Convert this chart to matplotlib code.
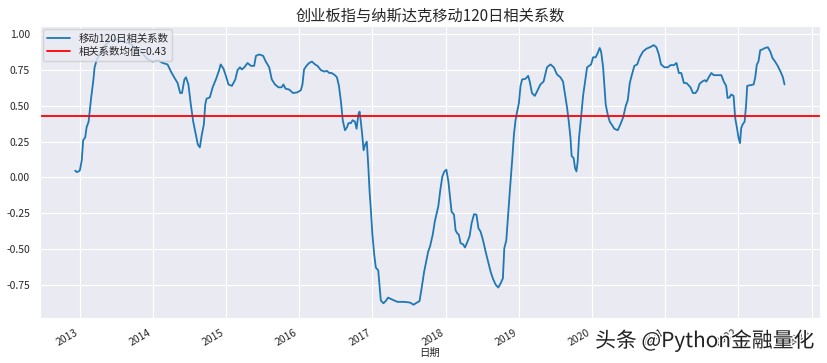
import numpy as np
import pandas as pd
import matplotlib
matplotlib.use("Agg")
import matplotlib.pyplot as plt
import matplotlib.dates as mdates
import matplotlib.patheffects as pe
import seaborn as sns

sns.set_style("darkgrid")
plt.rcParams['font.family'] = ['Noto Sans CJK SC', 'DejaVu Sans']
plt.rcParams['axes.unicode_minus'] = False

# 移动120日相关系数
dates = [
    "2012-12-10", "2012-12-19", "2013-01-02", "2013-01-12", "2013-01-19", "2013-01-29",
    "2013-02-05", "2013-02-15", "2013-02-21", "2013-02-28", "2013-03-10", "2013-03-17",
    "2013-03-27", "2013-04-11", "2013-04-19", "2013-05-13", "2013-06-07", "2013-07-10",
    "2013-08-12", "2013-09-15", "2013-11-03", "2013-12-07", "2014-01-01", "2014-01-26",
    "2014-02-20", "2014-03-16", "2014-04-02", "2014-04-18", "2014-05-05", "2014-05-18",
    "2014-05-27", "2014-06-08", "2014-06-16", "2014-06-28", "2014-07-10", "2014-07-22",
    "2014-08-04", "2014-08-14", "2014-08-24", "2014-09-03", "2014-09-13", "2014-09-20",
    "2014-09-26", "2014-10-13", "2014-10-27", "2014-11-12", "2014-11-26", "2014-12-06",
    "2014-12-20", "2015-01-01", "2015-01-14", "2015-01-31", "2015-02-17", "2015-02-28",
    "2015-03-12", "2015-03-22", "2015-04-03", "2015-04-19", "2015-05-06", "2015-05-22",
    "2015-05-31", "2015-06-16", "2015-07-06", "2015-07-19", "2015-08-05", "2015-08-18",
    "2015-09-03", "2015-09-20", "2015-10-06", "2015-10-15", "2015-10-26", "2015-11-12",
    "2015-12-02", "2015-12-24", "2016-01-10", "2016-01-18", "2016-01-26", "2016-02-07",
    "2016-02-20", "2016-03-05", "2016-03-21", "2016-04-02", "2016-04-19", "2016-05-06",
    "2016-05-19", "2016-05-31", "2016-06-12", "2016-06-28", "2016-07-08", "2016-07-18",
    "2016-07-28", "2016-08-06", "2016-08-17", "2016-08-27", "2016-09-04", "2016-09-16",
    "2016-09-24", "2016-10-06", "2016-10-14", "2016-10-23", "2016-10-29", "2016-11-05",
    "2016-11-11", "2016-11-18", "2016-11-26", "2016-12-04", "2016-12-11", "2016-12-18",
    "2016-12-25", "2017-01-01", "2017-01-10", "2017-01-18", "2017-01-30", "2017-02-05",
    "2017-02-12", "2017-02-25", "2017-03-08", "2017-03-20", "2017-04-11", "2017-05-06",
    "2017-06-08", "2017-07-08", "2017-07-25", "2017-08-11", "2017-08-24", "2017-09-03",
    "2017-09-16", "2017-09-26", "2017-10-06", "2017-10-16", "2017-10-29", "2017-11-08",
    "2017-11-13", "2017-11-26", "2017-12-06", "2017-12-16", "2017-12-26", "2018-01-05",
    "2018-01-15", "2018-01-21", "2018-01-31", "2018-02-12", "2018-02-20", "2018-02-28",
    "2018-03-08", "2018-03-17", "2018-03-29", "2018-04-08", "2018-04-20", "2018-05-01",
    "2018-05-11", "2018-05-23", "2018-06-04", "2018-06-14", "2018-06-25", "2018-07-07",
    "2018-07-20", "2018-08-03", "2018-08-14", "2018-08-26", "2018-09-08", "2018-09-21",
    "2018-10-03", "2018-10-14", "2018-10-21", "2018-10-31", "2018-11-10", "2018-11-20",
    "2018-11-30", "2018-12-08", "2018-12-16", "2018-12-24", "2019-01-02", "2019-01-10",
    "2019-01-18", "2019-02-04", "2019-02-17", "2019-02-25", "2019-03-08", "2019-03-22",
    "2019-04-02", "2019-04-19", "2019-05-05", "2019-05-22", "2019-06-08", "2019-06-25",
    "2019-07-11", "2019-07-28", "2019-08-10", "2019-08-20", "2019-08-30", "2019-09-07",
    "2019-09-16", "2019-09-22", "2019-10-02", "2019-10-09", "2019-10-16", "2019-10-22",
    "2019-10-29", "2019-11-08", "2019-11-18", "2019-11-28", "2019-12-08", "2019-12-18",
    "2019-12-28", "2020-01-07", "2020-01-20", "2020-01-30", "2020-02-09", "2020-02-16",
    "2020-02-26", "2020-03-04", "2020-03-10", "2020-03-20", "2020-03-30", "2020-04-11",
    "2020-04-22", "2020-05-09", "2020-05-22", "2020-06-05", "2020-06-18", "2020-06-28",
    "2020-07-08", "2020-07-19", "2020-07-31", "2020-08-14", "2020-08-27", "2020-09-12",
    "2020-09-29", "2020-10-16", "2020-11-05", "2020-11-18", "2020-11-30", "2020-12-11",
    "2020-12-28", "2021-01-14", "2021-01-27", "2021-02-13", "2021-02-26", "2021-03-10",
    "2021-03-22", "2021-04-04", "2021-04-17", "2021-05-07", "2021-05-19", "2021-06-01",
    "2021-06-11", "2021-06-21", "2021-07-04", "2021-07-17", "2021-07-25", "2021-08-06",
    "2021-08-19", "2021-08-31", "2021-09-16", "2021-10-08", "2021-10-20", "2021-11-01",
    "2021-11-08", "2021-11-18", "2021-11-26", "2021-12-08", "2021-12-16", "2021-12-25",
    "2022-01-02", "2022-01-09", "2022-01-15", "2022-01-22", "2022-02-01", "2022-02-08",
    "2022-02-14", "2022-03-01", "2022-03-18", "2022-03-26", "2022-04-03", "2022-04-11",
    "2022-04-20", "2022-05-01", "2022-05-14", "2022-05-28", "2022-06-09", "2022-06-20",
    "2022-07-03", "2022-07-16", "2022-07-30", "2022-08-11", "2022-08-19",
]
corr = [
    0.047, 0.037, 0.047, 0.12, 0.26, 0.28,
    0.35, 0.39, 0.47, 0.56, 0.67, 0.77,
    0.82, 0.86, 0.89, 0.93, 0.96, 0.965,
    0.95, 0.93, 0.88, 0.825, 0.81, 0.82,
    0.80, 0.79, 0.74, 0.70, 0.66, 0.59,
    0.59, 0.685, 0.70, 0.65, 0.51, 0.39,
    0.30, 0.23, 0.21, 0.30, 0.37, 0.51,
    0.55, 0.56, 0.63, 0.685, 0.74, 0.79,
    0.76, 0.71, 0.65, 0.64, 0.685, 0.75,
    0.77, 0.755, 0.77, 0.80, 0.78, 0.78,
    0.85, 0.86, 0.85, 0.81, 0.77, 0.685,
    0.65, 0.63, 0.63, 0.65, 0.62, 0.615,
    0.59, 0.595, 0.61, 0.65, 0.755, 0.78,
    0.80, 0.81, 0.79, 0.78, 0.75, 0.74,
    0.745, 0.73, 0.73, 0.715, 0.70, 0.64,
    0.53, 0.40, 0.33, 0.35, 0.38, 0.38,
    0.40, 0.39, 0.34, 0.44, 0.46, 0.38,
    0.30, 0.19, 0.23, 0.25, 0.09, -0.10,
    -0.24, -0.40, -0.54, -0.63, -0.65, -0.75,
    -0.86, -0.88, -0.865, -0.84, -0.855, -0.87,
    -0.87, -0.875, -0.89, -0.875, -0.865, -0.78,
    -0.66, -0.59, -0.52, -0.48, -0.40, -0.31,
    -0.28, -0.20, -0.085, 0.007, 0.042, 0.054,
    -0.028, -0.11, -0.24, -0.26, -0.37, -0.39,
    -0.40, -0.46, -0.467, -0.49, -0.45, -0.41,
    -0.32, -0.257, -0.26, -0.355, -0.38, -0.44,
    -0.52, -0.60, -0.66, -0.71, -0.75, -0.77,
    -0.74, -0.705, -0.495, -0.44, -0.24, -0.05,
    0.135, 0.30, 0.40, 0.46, 0.52, 0.64,
    0.685, 0.69, 0.71, 0.67, 0.59, 0.57,
    0.60, 0.65, 0.67, 0.77, 0.79, 0.77,
    0.72, 0.70, 0.67, 0.58, 0.49, 0.40,
    0.28, 0.15, 0.135, 0.065, 0.042, 0.11,
    0.28, 0.42, 0.57, 0.67, 0.77, 0.78,
    0.79, 0.84, 0.84, 0.87, 0.905, 0.88,
    0.77, 0.63, 0.51, 0.44, 0.39, 0.365,
    0.34, 0.33, 0.37, 0.42, 0.50, 0.54,
    0.66, 0.72, 0.78, 0.79, 0.84, 0.88,
    0.90, 0.91, 0.925, 0.91, 0.86, 0.79,
    0.77, 0.77, 0.785, 0.785, 0.80, 0.73,
    0.73, 0.66, 0.66, 0.63, 0.59, 0.59,
    0.61, 0.654, 0.67, 0.68, 0.67, 0.70,
    0.73, 0.715, 0.715, 0.715, 0.67, 0.64,
    0.555, 0.56, 0.58, 0.57, 0.415, 0.345,
    0.275, 0.24, 0.345, 0.37, 0.39, 0.50,
    0.64, 0.645, 0.65, 0.70, 0.79, 0.81,
    0.89, 0.895, 0.905, 0.91, 0.88, 0.835,
    0.81, 0.78, 0.74, 0.70, 0.65,
]
corr_mean = 0.43

s = pd.Series(corr, index=pd.to_datetime(dates))

fig, ax = plt.subplots(figsize=(8.27, 3.63), dpi=100)
ax.plot(s.index, s.values, color='#1f77b4', lw=1.3, label='移动120日相关系数')
ax.axhline(corr_mean, color='red', lw=1.3, label='相关系数均值=0.43')

ax.xaxis.set_major_locator(mdates.YearLocator())
ax.xaxis.set_major_formatter(mdates.DateFormatter('%Y'))
ax.set_yticks([-0.75, -0.5, -0.25, 0, 0.25, 0.5, 0.75, 1.0])
ax.tick_params(labelsize=7.5)
for lab in ax.get_xticklabels():
    lab.set_rotation(30)
    lab.set_ha('right')

ax.set_title('创业板指与纳斯达克移动120日相关系数', fontsize=11, pad=4)
ax.set_xlabel('日期', fontsize=7.5, labelpad=0)
ax.legend(loc='upper left', fontsize=7.5, handlelength=2.2, borderpad=0.4,
          labelspacing=0.3, borderaxespad=0.3)

fig.subplots_adjust(left=0.048, right=0.9915, top=0.928, bottom=0.124)
fig.text(0.985, 0.03, '头条 @Python金融量化', ha='right', va='bottom',
         fontsize=15, color='#222222',
         path_effects=[pe.withStroke(linewidth=2, foreground='white')])

fig.savefig('out.png', dpi=100)
